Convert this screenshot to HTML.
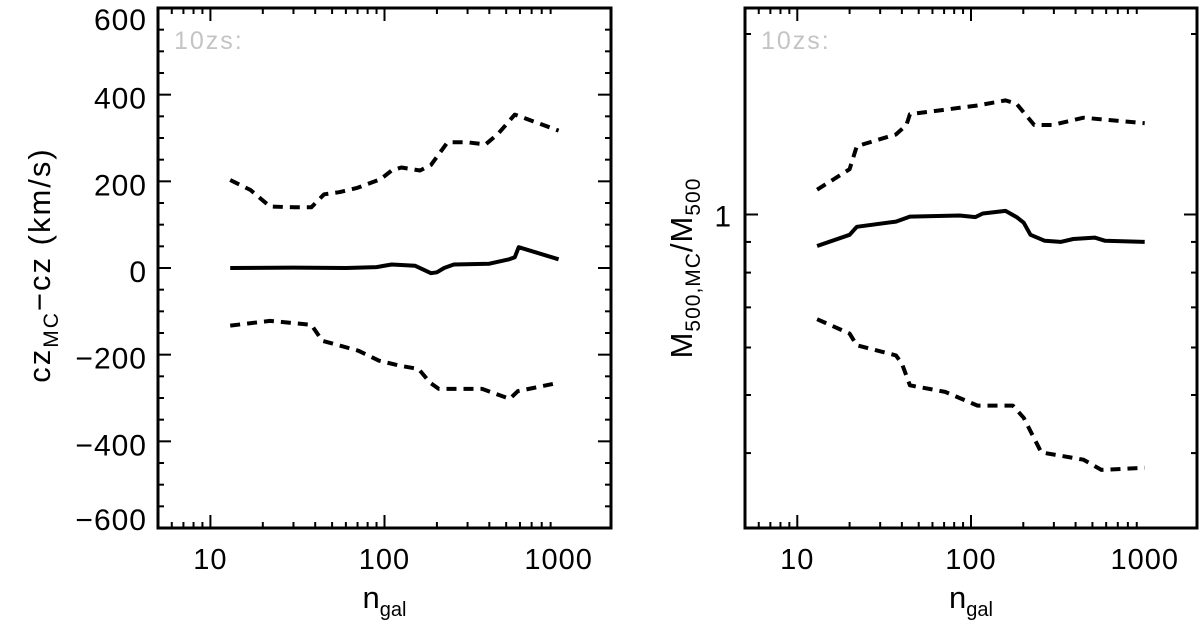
<!DOCTYPE html>
<html><head><meta charset="utf-8"><style>
html,body{margin:0;padding:0;background:#fff;}
svg{display:block;font-family:"Liberation Sans",sans-serif;}
</style></head><body>
<svg id="c" width="1200" height="629"></svg>
<script>
// Left panel data
const leftMedN = [13,30,60,90,110,150,185,200,220,250,400,520,560,590,1000];
const leftMedV = [0,1,0,2,8,5,-12,-10,0,8,10,20,25,48,20];
const leftUpN = [13,17,22,30,38,45,55,70,95,110,125,160,185,230,300,380,450,560,1000];
const leftUpV = [203,180,142,140,140,170,175,185,205,225,232,225,238,290,290,285,310,354,317];
const leftLoN = [13,22,38,44,71,93,121,157,183,205,364,524,584,1000];
const leftLoV = [-133,-122,-131,-168,-191,-214,-225,-233,-265,-279,-279,-302,-284,-265];
const leftYTicks = [-600,-400,-200,0,200,400,600];
// Right panel data
const rightMedN = [13,20,22,37,44.5,86,106,117,158,183,201,220,266,328,388,515,592,1000];
const rightMedV = [0.886,0.925,0.954,0.973,0.992,0.996,0.99,1.004,1.014,0.99,0.969,0.925,0.904,0.9,0.91,0.915,0.904,0.9];
const rightUpN = [13,20,22,37,42.5,44.5,109,158,183,231,293,444,1000];
const rightUpV = [1.10,1.19,1.30,1.36,1.41,1.47,1.52,1.55,1.53,1.41,1.41,1.45,1.42];
const rightLoN = [13,20,22,37,40,44.5,71,109,144,174,201,254,444,563,1000];
const rightLoV = [0.669,0.633,0.605,0.582,0.564,0.519,0.506,0.48,0.48,0.48,0.458,0.401,0.39,0.375,0.378];
const xTickLabels = ["10","100","1000"];

const NS="http://www.w3.org/2000/svg";
const svg=document.getElementById('c');
function mk(tag,attrs,parent){const e=document.createElementNS(NS,tag);for(const k in attrs)e.setAttribute(k,attrs[k]);(parent||svg).appendChild(e);return e;}

function panel(P){
  const g=mk('g',{});
  
  
  const xs=n=>P.x0+(Math.log10(n)-Math.log10(5))/(Math.log10(2000)-Math.log10(5))*(P.x1-P.x0);
  const ys=P.ys;
  for(let d=0;d<3;d++){for(let m=1;m<10;m++){const n=m*Math.pow(10,d);if(n<5||n>2000)continue;
    const x=xs(n);const L=(m===1)?13:6;
    mk('line',{x1:x,x2:x,y1:P.y1,y2:P.y1-L,stroke:'#000','stroke-width':2},g);
    mk('line',{x1:x,x2:x,y1:P.y0,y2:P.y0+L,stroke:'#000','stroke-width':2},g);
  }}
  xTickLabels.forEach(t=>{const tx=mk('text',{x:xs(+t),y:P.y1+41,'font-size':29,'text-anchor':'middle','letter-spacing':1},g);tx.textContent=t;
    });
  P.yTicks(g,xs);
  mk('rect',{x:P.x0,y:P.y0,width:P.x1-P.x0,height:P.y1-P.y0,fill:'none',stroke:'#000','stroke-width':3},g);
  const line=(N,V,dash,name)=>{const p=mk('polyline',{points:N.map((n,i)=>xs(n).toFixed(1)+','+ys(V[i]).toFixed(1)).join(' '),fill:'none',stroke:'#000','stroke-width':4,'stroke-dasharray':dash?'10,7':'none','stroke-linejoin':'round'},g);
    };
  line(P.up[0],P.up[1],true,'upper-bound-line');
  line(P.med[0],P.med[1],false,'median-line');
  line(P.lo[0],P.lo[1],true,'lower-bound-line');
  const lab=mk('text',{x:P.x0+16,y:P.y0+41,'font-size':25,fill:'#c4c4c4','letter-spacing':2},g);lab.textContent='10zs:';
  
  const xl=mk('text',{x:(P.x0+P.x1)/2,y:608,'font-size':31,'text-anchor':'middle'},g);
  xl.innerHTML='n<tspan font-size="20" dy="8">gal</tspan>';
  
}

// Left
const L={name:'left-panel',x0:158,x1:611,y0:8,y1:528,med:[leftMedN,leftMedV],up:[leftUpN,leftUpV],lo:[leftLoN,leftLoV]};
L.ys=v=>L.y0+(600-v)/1200*(L.y1-L.y0);
L.yTicks=(g)=>{for(let v=-600;v<=600;v+=50){const y=L.ys(v);const Ln=(v%200===0)?13:6;
  mk('line',{x1:L.x0,x2:L.x0+Ln,y1:y,y2:y,stroke:'#000','stroke-width':2},g);
  mk('line',{x1:L.x1,x2:L.x1-Ln,y1:y,y2:y,stroke:'#000','stroke-width':2},g);}
  leftYTicks.forEach(v=>{const yy=L.ys(v)+(v===600?22:(v===-600?2:14));const t=mk('text',{x:L.x0-11,y:yy,'font-size':30,'text-anchor':'end','letter-spacing':1},g);t.textContent=(v<0?'\u2212':'')+Math.abs(v);
    });
  const yl=mk('text',{transform:'translate(50,265) rotate(-90)','font-size':31,'text-anchor':'middle','letter-spacing':2},g);
  yl.innerHTML='cz<tspan font-size="21" dy="8">MC</tspan><tspan dy="-8">\u2212cz  (km/s)</tspan>';
  
};
panel(L);

// Right
const R={name:'right-panel',x0:745,x1:1197,y0:8,y1:528,med:[rightMedN,rightMedV],up:[rightUpN,rightUpV],lo:[rightLoN,rightLoV]};
const rTop=Math.log10(2.21),rBot=Math.log10(0.30);
R.ys=v=>R.y0+(rTop-Math.log10(v))/(rTop-rBot)*(R.y1-R.y0);
R.yTicks=(g)=>{[0.3,0.4,0.5,0.6,0.7,0.8,0.9,1,2].forEach(v=>{const y=R.ys(v);const Ln=(v===1)?13:6;
  mk('line',{x1:R.x0,x2:R.x0+Ln,y1:y,y2:y,stroke:'#000','stroke-width':2},g);
  mk('line',{x1:R.x1,x2:R.x1-Ln,y1:y,y2:y,stroke:'#000','stroke-width':2},g);});
  const t=mk('text',{x:R.x0-14,y:R.ys(1)+12,'font-size':30,'text-anchor':'end'},g);t.textContent='1';
  
  const yl=mk('text',{transform:'translate(692,268) rotate(-90)','font-size':31,'text-anchor':'middle','letter-spacing':1},g);
  yl.innerHTML='M<tspan font-size="21" dy="8">500,MC</tspan><tspan dy="-8">/M</tspan><tspan font-size="21" dy="8">500</tspan>';
  
};
panel(R);
</script>
</body></html>
